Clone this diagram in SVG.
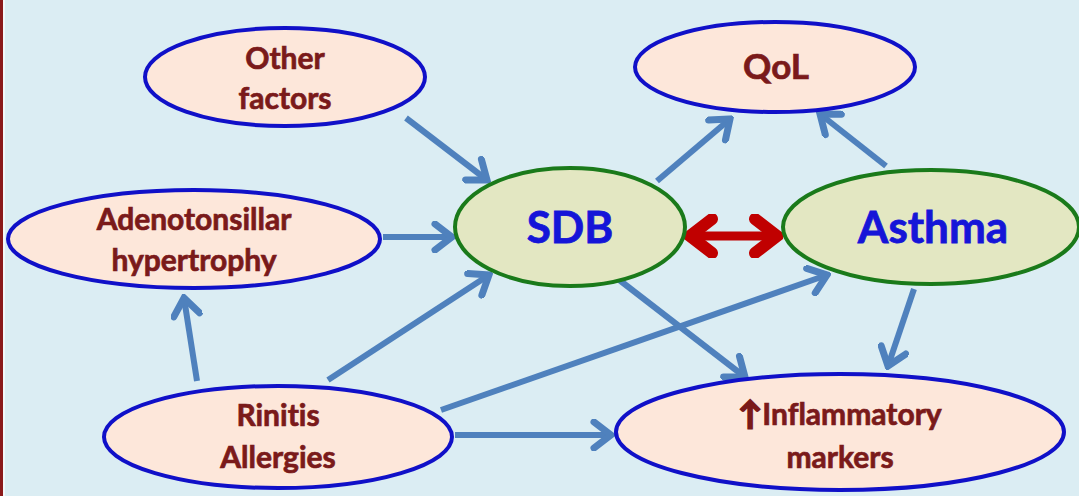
<svg xmlns="http://www.w3.org/2000/svg" width="1079" height="496" viewBox="0 0 1079 496">
<style>
.bg{fill:#dbedf3}
.pink{fill:#fde7da;stroke:#1010c8;stroke-width:4}
.green{fill:#e3e7c2;stroke:#1a7a1a;stroke-width:4}
.lbl{font-family:Lato,"Open Sans","Liberation Sans",sans-serif;font-weight:bold;font-size:30px;fill:#7a1a1a;stroke:#7a1a1a;stroke-width:0.7;text-anchor:middle;font-variant-ligatures:none}
.big{font-family:Lato,"Open Sans","Liberation Sans",sans-serif;font-weight:bold;font-size:44px;fill:#1515d8;stroke:#1515d8;stroke-width:0.8;text-anchor:middle}
.arr{stroke:#4f81bd;stroke-width:6;fill:none;marker-end:url(#ah)}
.red{stroke:#c00000;stroke-width:9;fill:none;marker-end:url(#rh);marker-start:url(#rh)}
.up{font-size:32px;stroke-width:2}
</style>
<defs>
<marker id="ah" markerUnits="userSpaceOnUse" viewBox="-24 -16 28 32" refX="0" refY="0" markerWidth="28" markerHeight="32" orient="auto-start-reverse">
<path d="M-17,-13 L0,0 L-17,13" fill="none" stroke="#4f81bd" stroke-width="7" stroke-linecap="round" stroke-linejoin="miter"/>
</marker>
<marker id="rh" markerUnits="userSpaceOnUse" viewBox="-30 -22 36 44" refX="0" refY="0" markerWidth="36" markerHeight="44" orient="auto-start-reverse">
<path d="M-22,-17 L0,0 L-22,17" fill="none" stroke="#c00000" stroke-width="12" stroke-linecap="round" stroke-linejoin="miter"/>
</marker>
</defs>
<rect class="bg" x="0" y="0" width="1079" height="496"/>
<rect x="0" y="0" width="3" height="496" fill="#8b1a1a"/>
<rect x="3" y="0" width="2" height="496" fill="#f2f8fa"/>
<g id="connectors">
<line class="arr" x1="406" y1="118" x2="487" y2="180"/>
<line class="arr" x1="383" y1="237" x2="452" y2="237"/>
<line class="arr" x1="197" y1="381" x2="184" y2="298"/>
<line class="arr" x1="328" y1="380" x2="489" y2="275"/>
<line class="arr" x1="441" y1="410" x2="827" y2="275"/>
<line class="arr" x1="455" y1="435" x2="611" y2="435"/>
<line class="arr" x1="657" y1="181" x2="730" y2="119"/>
<line class="arr" x1="886" y1="166" x2="820" y2="114"/>
<line class="arr" x1="618" y1="279" x2="745" y2="377"/>
<line class="arr" x1="914" y1="289" x2="888" y2="366"/>
<line class="red" x1="690" y1="236" x2="777" y2="236"/>
</g>
<g id="other">
<ellipse class="pink" cx="285" cy="77" rx="140" ry="49"/>
<text class="lbl" x="285" y="69">Other</text>
<text class="lbl" x="285" y="109">factors</text>
</g>
<g id="qol">
<ellipse class="pink" cx="775" cy="67" rx="140" ry="45"/>
<text class="lbl" x="776" y="79" style="font-size:35px">QoL</text>
</g>
<g id="adeno">
<ellipse class="pink" cx="194" cy="239" rx="186" ry="49"/>
<text class="lbl" x="194" y="230">Adenotonsillar</text>
<text class="lbl" x="194" y="271">hypertrophy</text>
</g>
<g id="sdb">
<ellipse class="green" cx="570" cy="227" rx="115" ry="59"/>
<text class="big" x="570" y="243">SDB</text>
</g>
<g id="asthma">
<ellipse class="green" cx="931" cy="227" rx="148" ry="57"/>
<text class="big" x="933" y="243">Asthma</text>
</g>
<g id="rinitis">
<ellipse class="pink" cx="278" cy="437" rx="174" ry="51"/>
<text class="lbl" x="278" y="426">Rinitis</text>
<text class="lbl" x="278" y="468">Allergies</text>
</g>
<g id="inflam">
<ellipse class="pink" cx="840" cy="432" rx="224" ry="58"/>
<text class="lbl" x="840" y="425"><tspan class="up">↑</tspan>Inflammatory</text>
<text class="lbl" x="840" y="468">markers</text>
</g>
</svg>
